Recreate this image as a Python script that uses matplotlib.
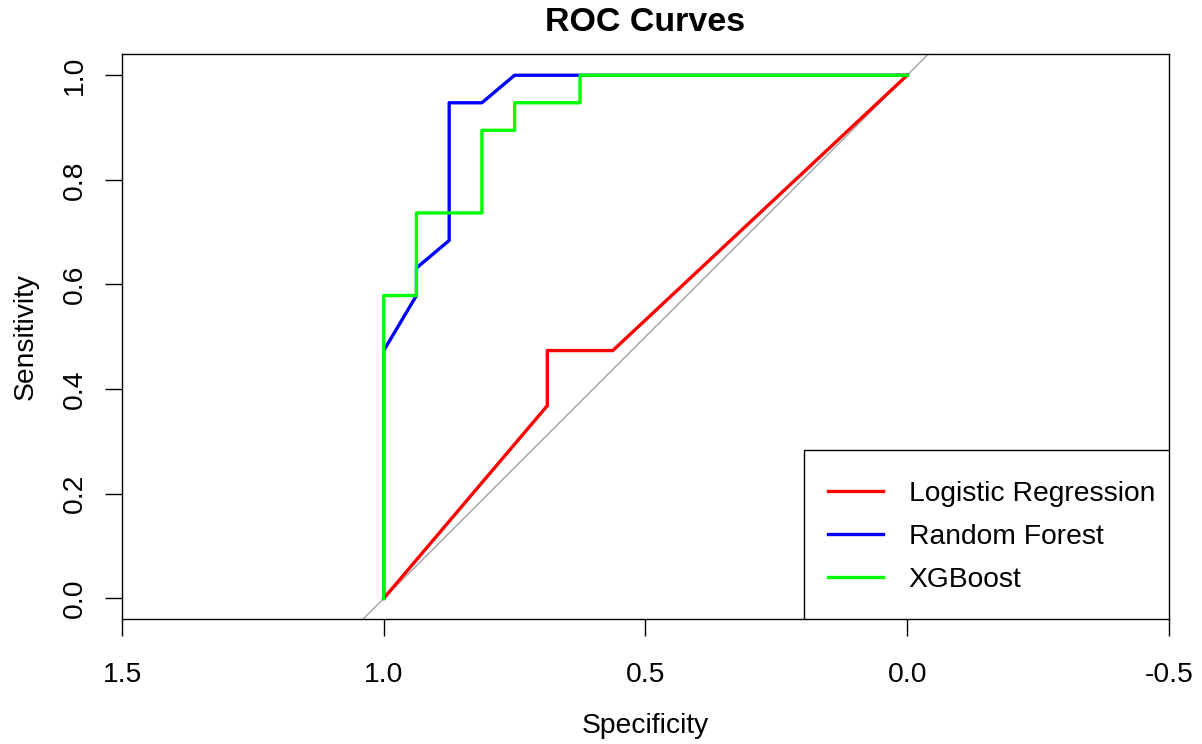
import matplotlib
matplotlib.use("Agg")
import matplotlib.pyplot as plt
from matplotlib.patches import Rectangle

plt.rcParams['font.family'] = ['Liberation Sans', 'DejaVu Sans']

# ROC points (specificity, sensitivity)
lr_spec = [1.0, 0.6875, 0.6875, 0.5625, 0.0]
lr_sens = [0.0, 7/19, 9/19, 9/19, 1.0]

rf_spec = [1.0, 1.0, 0.9375, 0.9375, 0.875, 0.875, 0.8125, 0.75, 0.625, 0.0]
rf_sens = [0.0, 9/19, 11/19, 12/19, 13/19, 18/19, 18/19, 1.0, 1.0, 1.0]

xgb_spec = [1.0, 1.0, 0.9375, 0.9375, 0.8125, 0.8125, 0.75, 0.75, 0.625, 0.625, 0.0]
xgb_sens = [0.0, 11/19, 11/19, 14/19, 14/19, 17/19, 17/19, 18/19, 18/19, 1.0, 1.0]

labels = ["Logistic Regression", "Random Forest", "XGBoost"]
colors = ["#ff0000", "#0000ff", "#00ff00"]
x_ticks = [1.5, 1.0, 0.5, 0.0, -0.5]
y_ticks = [0.0, 0.2, 0.4, 0.6, 0.8, 1.0]

fig = plt.figure(figsize=(12.02, 7.44), dpi=100)
ax = fig.add_axes([0.1015, 0.1676, 0.871, 0.7594])

# reference diagonal
ax.axline((1, 0), (0, 1), color="#aaaaaa", lw=1.1, zorder=1)

ax.plot(lr_spec, lr_sens, color=colors[0], lw=2.4, label=labels[0], snap=False)
ax.plot(rf_spec, rf_sens, color=colors[1], lw=2.4, label=labels[1], snap=False)
ax.plot(xgb_spec, xgb_sens, color=colors[2], lw=2.4, label=labels[2], snap=False)

ax.set_xlim(1.5, -0.5)
ax.set_ylim(-0.04, 1.04)
ax.set_xticks(x_ticks)
ax.set_xticklabels(["1.5", "1.0", "0.5", "0.0", "-0.5"])
ax.set_yticks(y_ticks)
ax.set_yticklabels(["0.0", "0.2", "0.4", "0.6", "0.8", "1.0"], rotation=90, va="center")

ax.tick_params(axis="both", length=12.5, width=1, labelsize=20.3)
ax.tick_params(axis="x", pad=18)
ax.tick_params(axis="y", pad=12)
for s in ax.spines.values():
    s.set_linewidth(1)

ax.set_title("ROC Curves", fontsize=24.5, fontweight="bold", pad=16.5)
ax.set_xlabel("Specificity", fontsize=20.3, labelpad=18)
ax.set_ylabel("Sensitivity", fontsize=20.3, labelpad=17)

# R-style legend box (padding is wider on the left than on the right)
ax.add_patch(Rectangle((0.6514, 0), 0.3486, 0.299, transform=ax.transAxes,
                       facecolor="white", edgecolor="black", lw=1, zorder=4))
leg = ax.legend(loc="lower right", bbox_to_anchor=(1.0124, 0), fontsize=20.3,
                frameon=False, borderaxespad=0, borderpad=0.95,
                handlelength=1.95, handletextpad=0.9, labelspacing=0.6)
leg.set_zorder(5)

fig.savefig("out.png", dpi=100)
